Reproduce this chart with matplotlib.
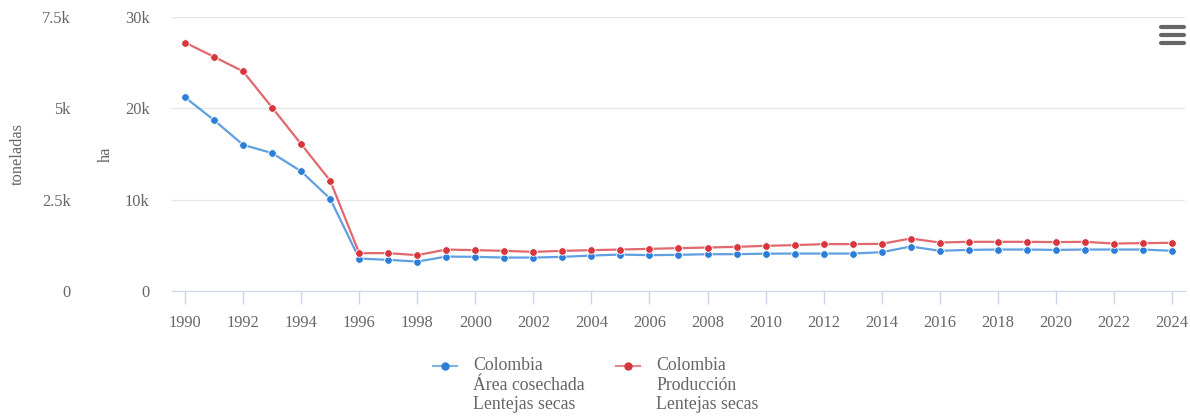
import matplotlib.pyplot as plt
from matplotlib.lines import Line2D

years = list(range(1990, 2025))

# Área cosechada (ha)
area_ha = [21200, 18700, 16000, 15100, 13100, 10100, 3550, 3410, 3220, 3770,
           3740, 3660, 3660, 3740, 3880, 3990, 3920, 3960, 4030, 4030,
           4090, 4100, 4100, 4100, 4250, 4870, 4400, 4500, 4540, 4540,
           4500, 4540, 4540, 4540, 4400]

# Producción (toneladas)
prod_t = [6800, 6410, 6010, 5020, 4020, 3020, 1036, 1036, 981, 1135,
          1118, 1099, 1071, 1099, 1118, 1135, 1154, 1173, 1190, 1209,
          1236, 1255, 1283, 1283, 1291, 1437, 1327, 1346, 1346, 1346,
          1338, 1346, 1299, 1310, 1319]

label_area = "Colombia\nÁrea cosechada\nLentejas secas"
label_prod = "Colombia\nProducción\nLentejas secas"

blue = '#2b7fd8'
red = '#d8353d'
grey_txt = '#666666'
plt.rcParams['font.family'] = ['Liberation Serif', 'DejaVu Serif']

fig = plt.figure(figsize=(11.9, 4.19), dpi=100)
ax = fig.add_axes([172 / 1190, 1 - 291 / 419, 1013 / 1190, 274 / 419])
ax2 = ax.twinx()

ax.plot(years, area_ha, color=blue, lw=1.6, alpha=0.75, zorder=3)
ax.plot(years, area_ha, ls='none', marker='o', ms=5.5, mfc=blue, mec='white',
        mew=0.6, zorder=4)
ax2.plot(years, prod_t, color=red, lw=1.6, alpha=0.75, zorder=3)
ax2.plot(years, prod_t, ls='none', marker='o', ms=5.5, mfc=red, mec='white',
         mew=0.6, zorder=4)

ax.set_xlim(1989.55, 2024.45)
ax.set_ylim(0, 30000)
ax2.set_ylim(0, 7500)
ax.set_yticks([0, 10000, 20000, 30000], ['0', '10k', '20k', '30k'])
ax2.set_yticks([0, 2500, 5000, 7500], ['0', '2.5k', '5k', '7.5k'])
ax2.yaxis.set_ticks_position('left')
ax2.yaxis.set_label_position('left')

ax.set_xticks(years[::2])
ax.tick_params(axis='x', length=9, color='#ccd6eb', width=1, pad=8,
               labelsize=11.8, labelcolor=grey_txt)
ax.tick_params(axis='y', length=0, pad=16, labelsize=11.8, labelcolor=grey_txt)
ax2.tick_params(axis='y', length=0, pad=73, labelsize=11.8, labelcolor=grey_txt)

ax.grid(axis='y', color='#e6e6e6', lw=1)
ax.set_axisbelow(True)
for a in (ax, ax2):
    for s in ['top', 'right', 'left']:
        a.spines[s].set_visible(False)
    a.spines['bottom'].set_color('#ccd6eb')
ax2.spines['bottom'].set_visible(False)

ax.set_ylabel('ha', color=grey_txt, fontsize=11.8)
ax.yaxis.set_label_coords(-0.057, 0.5)
ax2.set_ylabel('toneladas', color=grey_txt, fontsize=11.8)
ax2.yaxis.set_label_coords(-0.144, 0.5)

# legend drawn by hand so the handle sits on the first text line
def W(x):
    return x / 1190

def H(y):
    return 1 - y / 419

for x0, col, txt in [(433, blue, label_area), (616, red, label_prod)]:
    fig.add_artist(Line2D([W(x0), W(x0 + 24)], [H(366), H(366)], color=col,
                          lw=1.5, alpha=0.6))
    fig.add_artist(Line2D([W(x0 + 12)], [H(366)], color=col, marker='o',
                          ms=5, ls='none'))
    fig.text(W(x0 + 40), H(357), txt, color=grey_txt, fontsize=12.8,
             va='top', ha='left', linespacing=1.2)

# menu icon
for yy in (27, 35, 43):
    fig.add_artist(Line2D([W(1161), W(1184)], [H(yy), H(yy)], color='#666666',
                          lw=3, solid_capstyle='round'))

fig.savefig('out.png', dpi=100)
